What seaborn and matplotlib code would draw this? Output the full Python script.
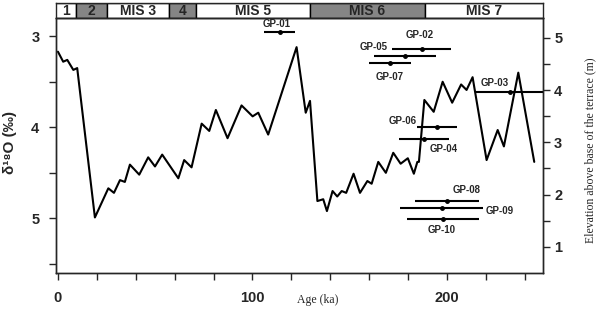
import matplotlib
matplotlib.use('Agg')
import matplotlib.pyplot as plt
from matplotlib.ticker import MultipleLocator, FixedLocator
import numpy as np
import pandas as pd
import seaborn as sns

# oxygen isotope curve (age in ka, d18O in permil)
age_ka = [0.0, 2.7, 4.8, 7.9, 9.9, 19.0, 25.9, 28.8, 31.9, 34.4, 37.0, 41.8, 46.4,
          49.9, 53.6, 61.9, 64.9, 68.7, 73.9, 77.8, 81.2, 87.2, 94.4, 100.1, 103.0,
          108.1, 122.7, 127.4, 129.6, 133.4, 136.4, 138.3, 141.2, 143.6, 145.9, 148.2,
          152.0, 155.3, 159.1, 161.3, 164.7, 168.6, 172.4, 176.2, 179.9, 183.0, 184.8,
          185.6, 188.4, 193.2, 197.8, 202.7, 207.3, 210.1, 213.2, 220.4, 226.1, 229.3,
          236.7, 244.9]
d18o = [3.17, 3.28, 3.26, 3.37, 3.35, 4.99, 4.67, 4.72, 4.58, 4.60, 4.41, 4.52, 4.33,
        4.43, 4.30, 4.56, 4.36, 4.44, 3.96, 4.04, 3.81, 4.12, 3.76, 3.88, 3.84,
        4.08, 3.12, 3.84, 3.71, 4.81, 4.79, 4.92, 4.70, 4.76, 4.70, 4.72,
        4.51, 4.72, 4.59, 4.62, 4.38, 4.50, 4.28, 4.40, 4.34, 4.51, 4.38,
        4.38, 3.70, 3.83, 3.50, 3.73, 3.53, 3.59, 3.45, 4.36, 4.03, 4.21,
        3.40, 4.38]

# dated samples (age, 1-sigma, elevation above terrace base)
samples = ['GP-01', 'GP-02', 'GP-05', 'GP-07', 'GP-03', 'GP-06', 'GP-04', 'GP-08', 'GP-09', 'GP-10']
sample_age = [114.1, 187.1, 178.4, 170.7, 232.4, 194.9, 188.2, 200.0, 197.4, 198.0]
sample_err = [8.0, 15.2, 15.9, 10.7, 18.0, 10.3, 13.0, 16.3, 21.4, 18.5]
sample_elev = [5.11, 4.79, 4.66, 4.52, 3.97, 3.30, 3.07, 1.88, 1.74, 1.53]

# marine isotope stages
mis_labels = ['1', '2', 'MIS 3', '4', 'MIS 5', 'MIS 6', 'MIS 7']
mis_start = [-2, 9.3, 25.0, 57.0, 71.0, 129.6, 188.7]
mis_end = [9.3, 25.0, 57.0, 71.0, 129.6, 188.7, 260]
mis_glacial = [False, True, False, True, False, True, False]

sns.set_style('ticks')
plt.rcParams['font.family'] = ['Liberation Sans', 'DejaVu Sans']
plt.rcParams['axes.linewidth'] = 1.0

W, H = 600, 318
fig = plt.figure(figsize=(6, 3.18), dpi=100)
ax = fig.add_axes([56 / W, 1 - 273 / H, 487 / W, 255 / H])
ax_mis = fig.add_axes([56 / W, 1 - 18 / H, 487 / W, 15 / H])

XMIN, XMAX = -1.0, 249.4

curve = pd.DataFrame({'age': age_ka, 'd18o': d18o})
sns.lineplot(data=curve, x='age', y='d18o', sort=False, color='black', lw=1.5, ax=ax)
ax.set_xlim(XMIN, XMAX)
ax.set_ylim(5.6, 2.8)
ax.xaxis.set_major_locator(FixedLocator([0, 100, 200]))
ax.xaxis.set_minor_locator(MultipleLocator(20))
ax.yaxis.set_major_locator(FixedLocator([3, 4, 5]))
ax.yaxis.set_minor_locator(FixedLocator([3.5, 4.5, 5.5]))
ax.tick_params(axis='both', which='both', length=5, width=1, direction='out')
ax.tick_params(axis='x', which='both', pad=8, labelsize=10.5)
ax.tick_params(axis='y', which='both', pad=7, labelsize=10.5)
for lab in ax.get_xticklabels() + ax.get_yticklabels():
    lab.set_fontweight('bold')
ax.set_xlabel('')
ax.set_ylabel('')

fig.text(318 / W, 1 - 300 / H, 'Age (ka)', family='Liberation Serif', fontsize=8.5,
         ha='center', va='center')
fig.text(10 / W, 1 - 143 / H, 'δ¹⁸O (‰)', family=['Liberation Sans', 'DejaVu Sans'],
         fontsize=11, fontweight='bold', rotation=90, ha='center', va='center')

# right axis with sample elevations
ax2 = ax.twinx()
ax2.set_ylim(0.5, 5.38)
ax2.yaxis.set_major_locator(FixedLocator([1, 2, 3, 4, 5]))
ax2.yaxis.set_minor_locator(FixedLocator([1.5, 2.5, 3.5, 4.5]))
ax2.tick_params(axis='y', which='both', length=5, width=1, pad=3, labelsize=10.5)
for lab in ax2.get_yticklabels():
    lab.set_fontweight('bold')
ax2.errorbar(sample_age, sample_elev, xerr=sample_err, fmt='o', ms=2.5, color='black',
             ecolor='black', elinewidth=1.5, capsize=0)
fig.text(590 / W, 1 - 150 / H, 'Elevation above base of the terrace (m)',
         family='Liberation Serif', fontsize=8.5, rotation=90, ha='center', va='center')

# label offsets in pixels (dx right, dy up)
label_offsets = {
    'GP-01': (-3, 8), 'GP-02': (-2, 14), 'GP-05': (-31, 9), 'GP-07': (0, -14),
    'GP-03': (-15, 9), 'GP-06': (-34, 6), 'GP-04': (20, -10), 'GP-08': (20, 11),
    'GP-09': (58, -3), 'GP-10': (-1, -11),
}
for name, a, e in zip(samples, sample_age, sample_elev):
    dx, dy = label_offsets[name]
    ax2.annotate(name, (a, e), xytext=(dx * 0.72, dy * 0.72), textcoords='offset points',
                 ha='center', va='center', fontsize=7, fontweight='bold')

# MIS bar
ax_mis.set_xlim(XMIN, XMAX)
ax_mis.set_ylim(0, 1)
for lab, s, e, g in zip(mis_labels, mis_start, mis_end, mis_glacial):
    ax_mis.axvspan(s, e, color='#858585' if g else 'white', ec='black', lw=1)
    c = (max(s, XMIN) + min(e, XMAX)) / 2
    ax_mis.text(c, 0.45, lab, ha='center', va='center', fontsize=10, fontweight='bold')
ax_mis.set_xticks([])
ax_mis.set_yticks([])
for sp in ax_mis.spines.values():
    sp.set_linewidth(1)

fig.savefig('out.png', dpi=100)
